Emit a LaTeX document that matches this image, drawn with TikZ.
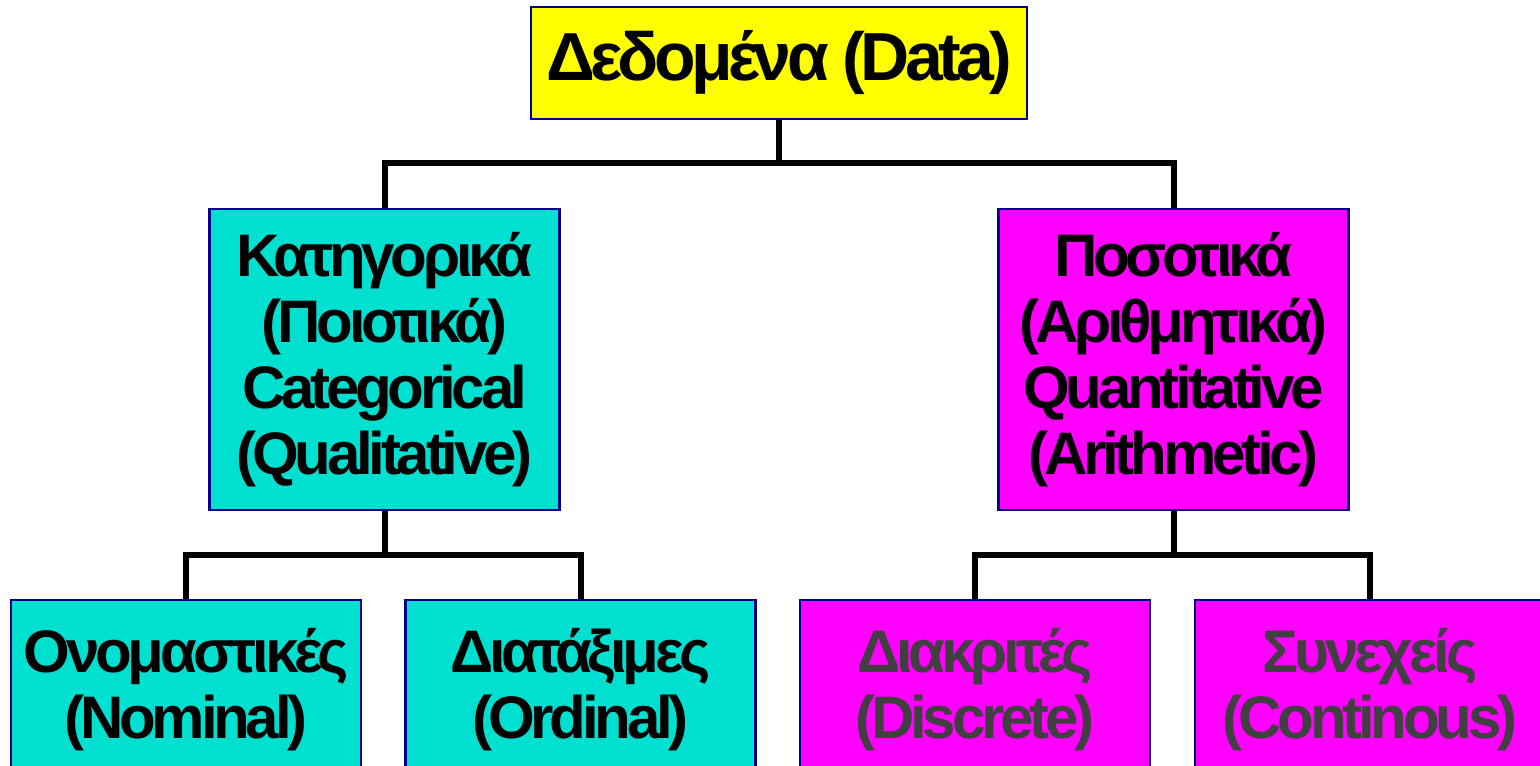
\documentclass[tikz,border=0pt]{standalone}
\usepackage{fontspec}
\newfontfamily\boxfont{Liberation Sans}[LetterSpace=-7]
\usetikzlibrary{positioning,calc}
\definecolor{boxyellow}{RGB}{255,255,0}
\definecolor{boxcyan}{RGB}{0,224,208}
\definecolor{boxmagenta}{RGB}{255,0,255}
\definecolor{boxline}{RGB}{0,0,140}
\definecolor{greytext}{RGB}{64,64,64}

\begin{document}
\begin{tikzpicture}[x=0.5pt,y=-0.5pt,
    box/.style={draw=boxline,line width=1.3pt,minimum width=175pt,align=center,
      inner sep=0pt,font=\boxfont\bfseries\fontsize{30}{33}\selectfont},
    topbox/.style={box,fill=boxyellow,minimum width=248pt,minimum height=56pt,
      font=\boxfont\bfseries\fontsize{34}{36}\selectfont},
    midbox/.style={box,minimum height=150.5pt},
    lowbox/.style={box,minimum height=90pt},
    link/.style={draw=black,line width=3pt}]
  \useasboundingbox (0,0) rectangle (1540,765);
  \clip (0,0) rectangle (1540,765);
  % top
  \node[topbox] (data) at (779,63) {Δεδομένα (Data)};
  % middle row
  \node[midbox,fill=boxcyan] (categ) at (384.5,359.5) {Κατηγορικά\\(Ποιοτικά)\\Categorical\\(Qualitative)};
  \node[midbox,fill=boxmagenta] (quant) at (1173.5,359.5) {Ποσοτικά\\(Αριθμητικά)\\Quantitative\\(Arithmetic)};
  % bottom row
  \node[lowbox,fill=boxcyan] (nominal) at (186,690) {Ονομαστικές\\(Nominal)};
  \node[lowbox,fill=boxcyan] (ordinal) at (580.5,690) {Διατάξιμες\\(Ordinal)};
  \node[lowbox,fill=boxmagenta,text=greytext] (discrete) at (975,690) {Διακριτές\\(Discrete)};
  \node[lowbox,fill=boxmagenta,text=greytext] (contin) at (1370,690) {Συνεχείς\\(Continous)};
  % connectors
  \coordinate (j0) at (779,163);
  \coordinate (j1) at (384.5,555);
  \coordinate (j2) at (1173.5,555);
  \draw[link] (data.south) -- (j0);
  \draw[link] (categ.north) |- (j0) -| (quant.north);
  \draw[link] (categ.south) -- (j1);
  \draw[link] (nominal.north) |- (j1) -| (ordinal.north);
  \draw[link] (quant.south) -- (j2);
  \draw[link] (discrete.north) |- (j2) -| (contin.north);
\end{tikzpicture}
\end{document}
